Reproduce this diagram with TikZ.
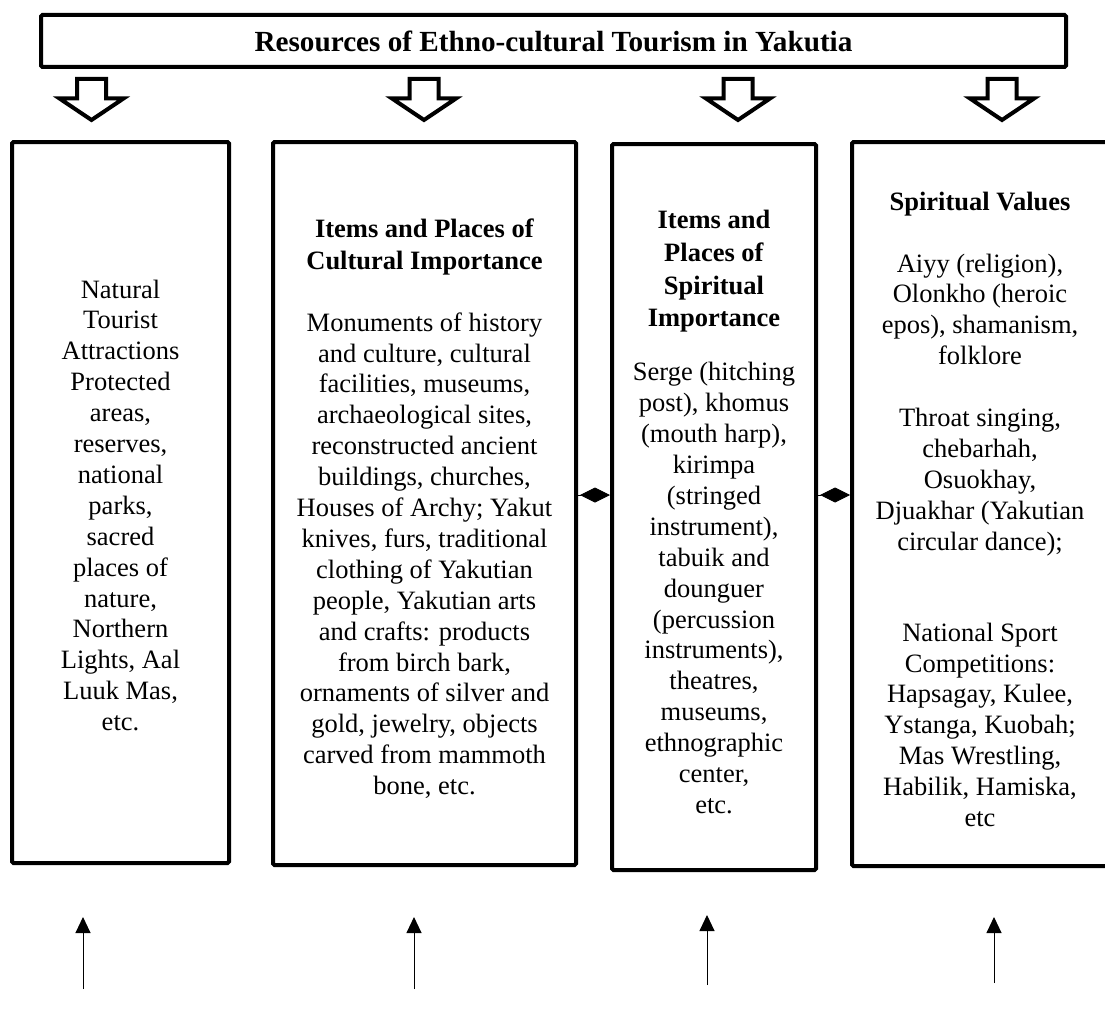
\documentclass[tikz,border=0pt]{standalone}
\usepackage{fontspec}
\setmainfont{Liberation Serif}
\usetikzlibrary{arrows.meta}
\newcommand{\lift}[1]{\rule{0pt}{#1}}
\tikzset{
  frame/.style={draw, line width=4pt, rounded corners=1.5pt, inner sep=0pt},
  colbox/.style={frame, align=center, font=\fontsize{26.5}{30.9}\selectfont},
  diamondlink/.style={line width=0.8pt, -{Diamond[length=30pt,width=15pt]}},
  uparrow/.style={line width=1pt, -{Triangle[length=16pt,width=15pt]}},
  blockdown/.pic={\draw[line width=4pt, line join=miter, fill=white]
    (-14.5,79) -- (14.5,79) -- (14.5,98.5) -- (32,98.5) -- (0,120)
    -- (-32,98.5) -- (-14.5,98.5) -- cycle;}
}
\begin{document}
\begin{tikzpicture}[x=1pt,y=-1pt]
\useasboundingbox (0,0) rectangle (1105,1014);
\fill[white] (0,0) rectangle (1105,1014);

% title box
\node[frame, minimum width=1025pt, minimum height=52pt, text depth=0pt,
      font=\bfseries\fontsize{29.2}{34}\selectfont] (top) at (553.5,41)
  {Resources of Ethno-cultural Tourism in Yakutia};

% block arrows
\pic (a1) at (91.5,0) {blockdown};
\pic (a2) at (424,0) {blockdown};
\pic (a3) at (738,0) {blockdown};
\pic (a4) at (1002,0) {blockdown};

% column boxes
\node[colbox, minimum width=217pt, minimum height=721pt] (b1) at (120.5,502.5)
  {\lift{24pt}Natural\\Tourist\\Attractions\\Protected\\areas,\\reserves,\\national\\parks,\\sacred\\places of\\nature,\\Northern\\Lights, Aal\\Luuk Mas,\\etc.};

\node[colbox, minimum width=303pt, minimum height=723pt] (b2) at (424.5,503.5)
  {\lift{29pt}\textbf{Items and Places of}\\[1pt]\textbf{Cultural Importance}\\[31pt]Monuments of history\\and culture, cultural\\facilities, museums,\\archaeological sites,\\reconstructed ancient\\buildings, churches,\\Houses of Archy; Yakut\\knives, furs, traditional\\clothing of Yakutian\\people, Yakutian arts\\and crafts: products\\from birch bark,\\ornaments of silver and\\gold, jewelry, objects\\carved from mammoth\\bone, etc.};

\node[colbox, minimum width=204pt, minimum height=726pt] (b3) at (714,507)
  {\lift{28pt}\textbf{Items and}\\[2pt]\textbf{Places of}\\[2pt]\textbf{Spiritual}\\[2pt]\textbf{Importance}\\[23pt]Serge (hitching\\post), khomus\\(mouth harp),\\kirimpa\\(stringed\\instrument),\\tabuik and\\dounguer\\(percussion\\instruments),\\theatres,\\museums,\\ethnographic\\center,\\etc.};

\node[colbox, minimum width=256pt, minimum height=724pt] (b4) at (980,504)
  {\lift{29pt}\textbf{Spiritual Values}\\[31pt]Aiyy (religion),\\Olonkho (heroic\\epos), shamanism,\\folklore\\[31pt]Throat singing,\\chebarhah,\\Osuokhay,\\Djuakhar (Yakutian\\circular dance);\\[60pt]National Sport\\Competitions:\\Hapsagay, Kulee,\\Ystanga, Kuobah;\\Mas Wrestling,\\Habilik, Hamiska,\\etc};

% diamond links
\coordinate (dl) at (0,495);
\draw[diamondlink] (b2.east |- dl) -- (b3.west |- dl);
\draw[diamondlink] (b3.east |- dl) -- (b4.west |- dl);

% up arrows
\coordinate (u1s) at (83,989);  \coordinate (u1e) at (83,917);
\coordinate (u2s) at (414,989); \coordinate (u2e) at (414,917);
\coordinate (u3s) at (707,985); \coordinate (u3e) at (707,915);
\coordinate (u4s) at (994,983); \coordinate (u4e) at (994,917);
\draw[uparrow] (u1s) -- (u1e);
\draw[uparrow] (u2s) -- (u2e);
\draw[uparrow] (u3s) -- (u3e);
\draw[uparrow] (u4s) -- (u4e);
\end{tikzpicture}
\end{document}
